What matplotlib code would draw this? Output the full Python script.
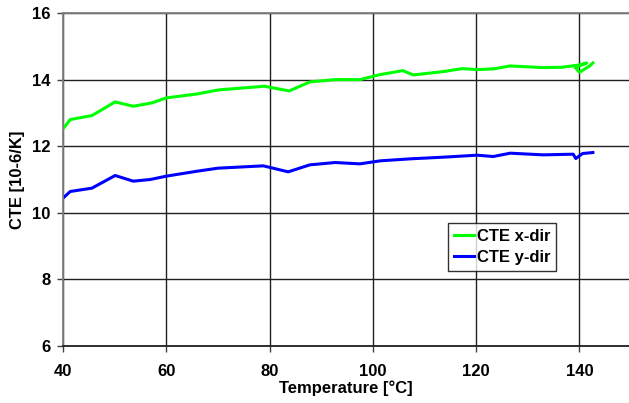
import matplotlib.pyplot as plt

plt.rcParams['font.family'] = ['Liberation Sans', 'DejaVu Sans']
plt.rcParams['font.weight'] = 'bold'

# CTE in x direction
temp_x = [40, 41.4, 45.6, 50.1, 53.6, 57.2, 60, 66, 70.1, 79, 83.8, 87.8, 92.7, 97.5,
          101.4, 105.8, 107.8, 113.6, 117.3, 120.2, 123.3, 126.6, 133, 136.6, 140,
          141.4, 139.2, 140, 142, 142.6]
cte_x = [12.52, 12.8, 12.92, 13.33, 13.2, 13.3, 13.45, 13.57, 13.69, 13.8, 13.66, 13.93,
         14.0, 14.0, 14.15, 14.27, 14.14, 14.24, 14.33, 14.3, 14.32, 14.41, 14.36, 14.37,
         14.44, 14.5, 14.36, 14.22, 14.41, 14.5]

# CTE in y direction
temp_y = [40, 41.4, 45.6, 50.1, 53.6, 56.9, 60, 66, 70, 78.8, 83.6, 87.8, 92.7, 97.5,
          101.4, 107.2, 113.6, 120.2, 123.3, 126.6, 133, 138.8, 139.3, 140.6, 142.6]
cte_y = [10.44, 10.64, 10.74, 11.12, 10.95, 11.0, 11.1, 11.25, 11.34, 11.41, 11.23, 11.44,
         11.51, 11.47, 11.56, 11.62, 11.67, 11.73, 11.69, 11.79, 11.74, 11.76, 11.63,
         11.78, 11.81]

fig = plt.figure(figsize=(6.29, 4.03), dpi=100)
ax = fig.add_axes([63 / 629, 57 / 403, 566 / 629, 333 / 403])

ax.plot(temp_x, cte_x, color='#00ff00', lw=2.2, label='CTE x-dir')
ax.plot(temp_y, cte_y, color='#0000ff', lw=2.2, label='CTE y-dir')

ax.set_xlim(40, 149.6)
ax.set_ylim(6, 16)
ax.set_xticks([40, 60, 80, 100, 120, 140])
ax.set_yticks([6, 8, 10, 12, 14, 16])
ax.grid(True, color='#202020', lw=1)
ax.set_axisbelow(True)
ax.spines['right'].set_visible(False)
for side in ['left', 'top', 'bottom']:
    ax.spines[side].set_color('#808080')
    ax.spines[side].set_linewidth(1.3)
ax.spines['bottom'].set_color('#202020')
ax.tick_params(direction='out', length=4, width=1, color='#404040', labelsize=12)
ax.tick_params(axis='x', pad=9)
ax.tick_params(axis='y', pad=5)

ax.set_xlabel('Temperature [°C]', fontsize=12, fontweight='bold', labelpad=1)
ax.set_ylabel('CTE [10-6/K]', fontsize=12, fontweight='bold', labelpad=5)

leg = fig.legend(loc='upper left', bbox_to_anchor=(448 / 629, 1 - 223 / 403),
                 fontsize=12, frameon=True, fancybox=False, handlelength=1.2,
                 handletextpad=0.2, borderpad=0.35, labelspacing=0.35,
                 borderaxespad=0)
leg.get_frame().set_edgecolor('black')
leg.get_frame().set_linewidth(1)

fig.savefig('out.png', dpi=100)
